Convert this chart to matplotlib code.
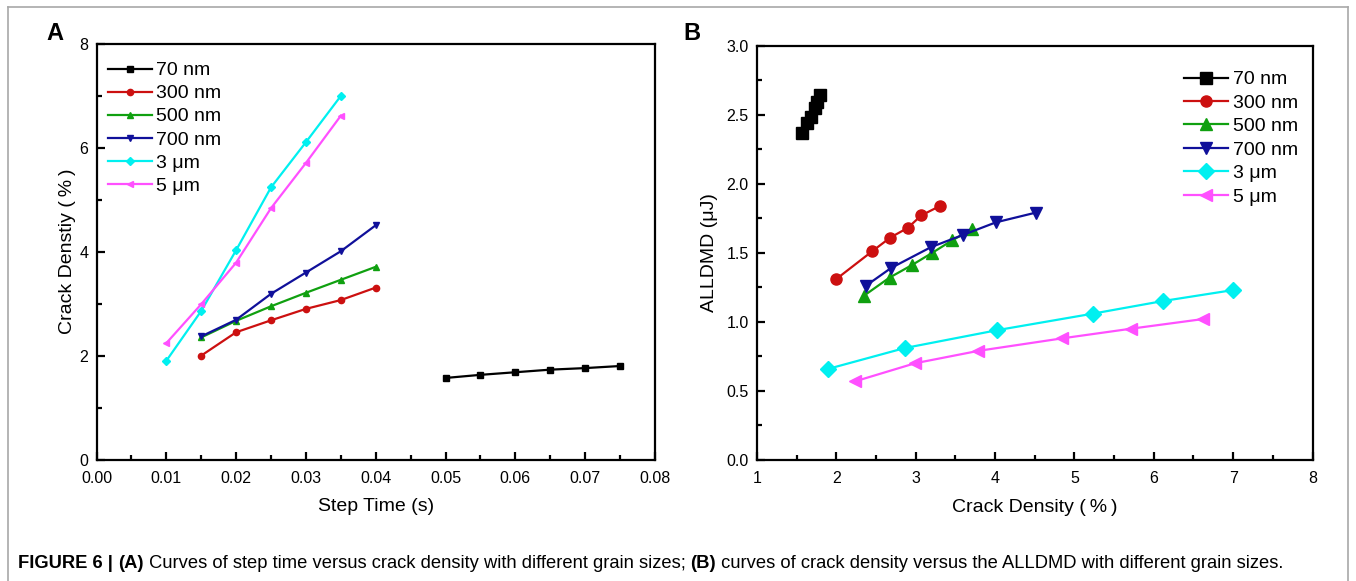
import matplotlib
matplotlib.use("Agg")
import matplotlib.pyplot as plt
from matplotlib.lines import Line2D

plt.rcParams['font.family'] = ['Liberation Sans', 'Noto Sans CJK SC', 'DejaVu Sans']

# ---------------- data ----------------
labels = ["70 nm", "300 nm", "500 nm", "700 nm", "3 μm", "5 μm"]
colors = ["#000000", "#cc1010", "#10a010", "#10109a", "#00f0f0", "#ff50ff"]
markers = ["s", "o", "^", "v", "D", "<"]

step_70 = [0.050, 0.055, 0.060, 0.065, 0.070, 0.075]
step_300 = [0.015, 0.020, 0.025, 0.030, 0.035, 0.040]
step_500 = [0.015, 0.020, 0.025, 0.030, 0.035, 0.040]
step_700 = [0.015, 0.020, 0.025, 0.030, 0.035, 0.040]
step_3um = [0.010, 0.015, 0.020, 0.025, 0.030, 0.035]
step_5um = [0.010, 0.015, 0.020, 0.025, 0.030, 0.035]

crack_70 = [1.57, 1.63, 1.68, 1.73, 1.76, 1.80]
crack_300 = [2.00, 2.45, 2.68, 2.90, 3.07, 3.31]
crack_500 = [2.35, 2.67, 2.95, 3.21, 3.46, 3.71]
crack_700 = [2.37, 2.69, 3.19, 3.60, 4.01, 4.51]
crack_3um = [1.90, 2.86, 4.03, 5.24, 6.11, 7.00]
crack_5um = [2.24, 2.99, 3.79, 4.84, 5.71, 6.62]

alldmd_70 = [2.37, 2.44, 2.48, 2.55, 2.59, 2.64]
alldmd_300 = [1.31, 1.51, 1.61, 1.68, 1.77, 1.84]
alldmd_500 = [1.19, 1.32, 1.41, 1.50, 1.59, 1.67]
alldmd_700 = [1.26, 1.39, 1.54, 1.63, 1.72, 1.79]
alldmd_3um = [0.66, 0.81, 0.94, 1.06, 1.15, 1.23]
alldmd_5um = [0.57, 0.70, 0.79, 0.88, 0.95, 1.02]

steps = [step_70, step_300, step_500, step_700, step_3um, step_5um]
cracks = [crack_70, crack_300, crack_500, crack_700, crack_3um, crack_5um]
alldmds = [alldmd_70, alldmd_300, alldmd_500, alldmd_700, alldmd_3um, alldmd_5um]

xticks_a = [0.00, 0.01, 0.02, 0.03, 0.04, 0.05, 0.06, 0.07, 0.08]
yticks_a = [0, 2, 4, 6, 8]
xticks_b = [1, 2, 3, 4, 5, 6, 7, 8]
yticks_b = [0.0, 0.5, 1.0, 1.5, 2.0, 2.5, 3.0]

caption_parts = [("FIGURE 6 | ", True), ("(A)", True),
                 (" Curves of step time versus crack density with different grain sizes; ", False),
                 ("(B)", True),
                 (" curves of crack density versus the ALLDMD with different grain sizes.", False)]

# ---------------- figure ----------------
W, H = 1356, 581
fig = plt.figure(figsize=(W / 100, H / 100), dpi=100)

# border lines (top, left, right)
fig.add_artist(Line2D([8 / W, 8 / W], [0, 1 - 7 / H], color="#a8a8a8", lw=1.2))
fig.add_artist(Line2D([8 / W, 1348 / W], [1 - 7 / H, 1 - 7 / H], color="#a8a8a8", lw=1.2))
fig.add_artist(Line2D([1348 / W, 1348 / W], [0, 1 - 7 / H], color="#a8a8a8", lw=1.2))

axA = fig.add_axes([96.5 / W, 1 - 459.5 / H, (655 - 96.5) / W, (459.5 - 44) / H])
axB = fig.add_axes([757 / W, 1 - 460 / H, (1312.5 - 757) / W, (460 - 45.5) / H])


def style(ax):
    for s in ax.spines.values():
        s.set_linewidth(1.6)
    ax.tick_params(which="both", direction="in", top=False, right=False,
                   width=1.6, labelsize=11.5)
    ax.tick_params(which="major", length=6, pad=8)
    ax.tick_params(which="minor", length=3.5)


# Panel A
for x, y, c, m, lab in zip(steps, cracks, colors, markers, labels):
    axA.plot(x, y, color=c, marker=m, markersize=4.5, lw=1.6, label=lab,
             markeredgecolor=c)
axA.set_xlim(0, 0.08)
axA.set_ylim(0, 8)
axA.set_xticks(xticks_a)
axA.set_xticklabels([f"{v:.2f}" for v in xticks_a])
axA.set_xticks([0.005 + 0.01 * i for i in range(8)], minor=True)
axA.set_yticks(yticks_a)
axA.set_yticks([1, 3, 5, 7], minor=True)
style(axA)
axA.tick_params(axis="y", which="major", pad=6)
axA.set_xlabel("Step Time (s)", fontsize=14, labelpad=9)
axA.set_ylabel("Crack Denstiy (\u2009%\u2009)", fontsize=14, labelpad=2)
axA.legend(loc="upper left", bbox_to_anchor=(-0.003, 0.99), frameon=False,
           fontsize=14, handlelength=2.25, handletextpad=0.2, labelspacing=0.28,
           borderaxespad=0.3)
fig.text(55 / W, 1 - 34 / H, "A", fontsize=17, fontweight="bold",
         ha="center", va="center")

# Panel B
for x, y, c, m, lab in zip(cracks, alldmds, colors, markers, labels):
    axB.plot(x, y, color=c, marker=m, markersize=8, lw=1.6, label=lab,
             markeredgecolor=c)
axB.set_xlim(1, 8)
axB.set_ylim(0, 3.0)
axB.set_xticks(xticks_b)
axB.set_xticks([1.5 + i for i in range(7)], minor=True)
axB.set_yticks(yticks_b)
axB.set_yticklabels([f"{v:.1f}" for v in yticks_b])
axB.set_yticks([0.25 + 0.5 * i for i in range(6)], minor=True)
style(axB)
axB.tick_params(axis="y", which="major", pad=6)
axB.set_xlabel("Crack Density (\u2009%\u2009)", fontsize=14, labelpad=9)
axB.set_ylabel("ALLDMD (μJ)", fontsize=14, labelpad=6)
axB.legend(loc="upper right", bbox_to_anchor=(0.999, 0.972), frameon=False,
           fontsize=14, handlelength=2.3, handletextpad=0.25, labelspacing=0.3,
           borderaxespad=0.3)
fig.text(692 / W, 1 - 34 / H, "B", fontsize=17, fontweight="bold",
         ha="center", va="center")

# caption
renderer = fig.canvas.get_renderer()
xpos = 18 / W
for txt, bold in caption_parts:
    t = fig.text(xpos, 1 - 563 / H, txt, fontsize=13.2,
                 fontweight="bold" if bold else "normal", va="center", ha="left")
    bb = t.get_window_extent(renderer=renderer)
    xpos += bb.width / W

fig.savefig("out.png", dpi=100)
